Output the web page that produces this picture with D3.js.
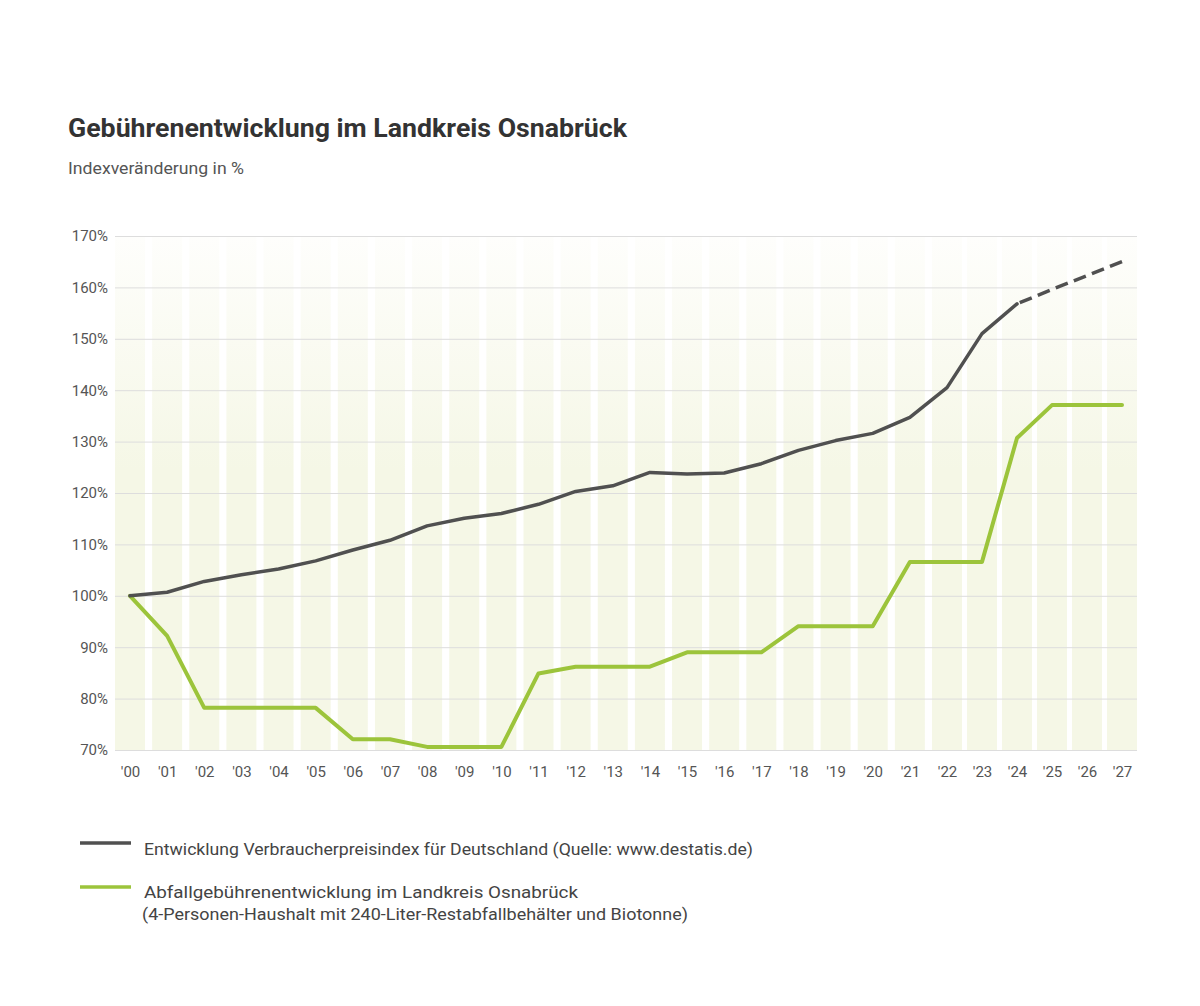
<!DOCTYPE html>
<html><head><meta charset="utf-8">
<script src="https://cdn.jsdelivr.net/npm/d3@7"></script>
<style>
html,body{margin:0;padding:0;background:#fff;}
text{font-family:Roboto,"Noto Sans",sans-serif;}
</style></head>
<body>
<svg id="c" width="1200" height="1006"></svg>
<script>
const years = [2000,2001,2002,2003,2004,2005,2006,2007,2008,2009,2010,2011,2012,2013,2014,2015,2016,2017,2018,2019,2020,2021,2022,2023,2024,2025,2026,2027];
const cpiYears = [2000,2001,2002,2003,2004,2005,2006,2007,2008,2009,2010,2011,2012,2013,2014,2015,2016,2017,2018,2019,2020,2021,2022,2023,2024];
const cpiValues = [100,100.7,102.8,104.1,105.2,106.8,108.9,110.8,113.6,115.1,116.0,117.8,120.3,121.4,124.0,123.7,123.9,125.7,128.3,130.2,131.6,134.7,140.5,151.0,156.8];
const cpiForecastYears = [2024,2025,2026,2027];
const cpiForecastValues = [156.8,159.6,162.3,165.0];
const feeValues = [100,92.2,78.2,78.2,78.2,78.2,72.1,72.1,70.6,70.6,70.6,84.9,86.2,86.2,86.2,89.0,89.0,89.0,94.1,94.1,94.1,106.6,106.6,106.6,130.7,137.1,137.1,137.1];
const yTicks = [70,80,90,100,110,120,130,140,150,160,170];
const title = "Gebührenentwicklung im Landkreis Osnabrück";
const subtitle = "Indexveränderung in %";
const legendCpi = ["Entwicklung Verbraucherpreisindex für Deutschland (Quelle: www.destatis.de)"];
const legendFee = ["Abfallgebührenentwicklung im Landkreis Osnabrück","(4-Personen-Haushalt mit 240-Liter-Restabfallbehälter und Biotonne)"];

const svg = d3.select("#c");
const plotL = 115, plotR = 1137, plotT = 236, plotB = 750;

const x = d3.scaleLinear().domain([2000,2022,2027]).range([130,947,1122]);
const y = d3.scaleLinear().domain([70,170]).range([plotB,plotT]);

const defs = svg.append("defs");
const grad = defs.append("linearGradient").attr("id","stripeGrad")
  .attr("gradientUnits","userSpaceOnUse").attr("x1",0).attr("x2",0).attr("y1",plotT).attr("y2",470);
grad.append("stop").attr("offset","0").attr("stop-color","#fefefc");
grad.append("stop").attr("offset","1").attr("stop-color","#f5f7e6");

// stripes
svg.append("g").selectAll("rect").data(years).join("rect")
  .attr("x", d => x(d) - 15)
  .attr("width", 30)
  .attr("y", plotT)
  .attr("height", plotB - plotT)
  .attr("fill", "url(#stripeGrad)");

// gridlines
const grid = svg.append("g").attr("transform",`translate(${plotL},0)`)
  .call(d3.axisLeft(y).tickValues(yTicks).tickSize(-(plotR-plotL)).tickFormat(""));
grid.select(".domain").remove();
grid.selectAll("line").attr("stroke","#dddddd").attr("stroke-width",1);

// y labels
const ya = svg.append("g").attr("transform",`translate(108,0)`)
  .call(d3.axisLeft(y).tickValues(yTicks).tickSize(0).tickPadding(0).tickFormat(d => d + "%"));
ya.select(".domain").remove();
ya.selectAll("text").attr("font-size",15).attr("fill","#555").attr("font-family","Roboto");

// x labels
const xa = svg.append("g").attr("transform",`translate(0,${plotB})`)
  .call(d3.axisBottom(x).tickValues(years).tickSize(0).tickPadding(16).tickFormat(d => "'" + String(d).slice(2)));
xa.select(".domain").remove();
xa.selectAll("text").attr("font-size",15).attr("fill","#555").attr("font-family","Roboto");

const line = d3.line().x(d => x(d[0])).y(d => y(d[1]));

svg.append("path").datum(years.map((yr,i)=>[yr,feeValues[i]]))
  .attr("d", line).attr("fill","none").attr("stroke","#9cc43b").attr("stroke-width",4)
  .attr("stroke-linejoin","round").attr("stroke-linecap","round");

svg.append("path").datum(cpiYears.map((yr,i)=>[yr,cpiValues[i]]))
  .attr("d", line).attr("fill","none").attr("stroke","#505050").attr("stroke-width",3.5)
  .attr("stroke-linejoin","round").attr("stroke-linecap","round");

const dashPath = svg.append("path").datum(cpiForecastYears.map((yr,i)=>[yr,cpiForecastValues[i]]))
  .attr("d", line).attr("fill","none").attr("stroke","#505050").attr("stroke-width",3.5);
{
  const L = dashPath.node().getTotalLength();
  const g = 6.5, n = 6, lead = 3;
  const dsh = (L - lead - (n-1)*g) / n;
  dashPath.attr("stroke-dasharray", `${dsh},${g}`).attr("stroke-dashoffset", dsh + g - lead);
}

function fitText(sel, w){
  const n = sel.node();
  const cur = n.getComputedTextLength();
  if (Math.abs(cur - w) > 2) sel.attr("textLength", w).attr("lengthAdjust","spacingAndGlyphs");
}

// title
fitText(svg.append("text").attr("x",68).attr("y",137).attr("font-size",26).attr("font-weight",700)
  .attr("fill","#333").text(title), 559);
fitText(svg.append("text").attr("x",68).attr("y",174).attr("font-size",17)
  .attr("fill","#555").text(subtitle), 176);

// legend
svg.append("line").attr("x1",80).attr("x2",131).attr("y1",843).attr("y2",843)
  .attr("stroke","#505050").attr("stroke-width",3.5);
fitText(svg.append("text").attr("x",144).attr("y",855).attr("font-size",17).attr("fill","#444").text(legendCpi[0]), 609);

svg.append("line").attr("x1",80).attr("x2",131).attr("y1",887).attr("y2",887)
  .attr("stroke","#9cc43b").attr("stroke-width",3.5);
fitText(svg.append("text").attr("x",144).attr("y",898).attr("font-size",17).attr("fill","#444").text(legendFee[0]), 434);
fitText(svg.append("text").attr("x",142).attr("y",920).attr("font-size",17).attr("fill","#444").text(legendFee[1]), 546);
</script>
</body></html>
